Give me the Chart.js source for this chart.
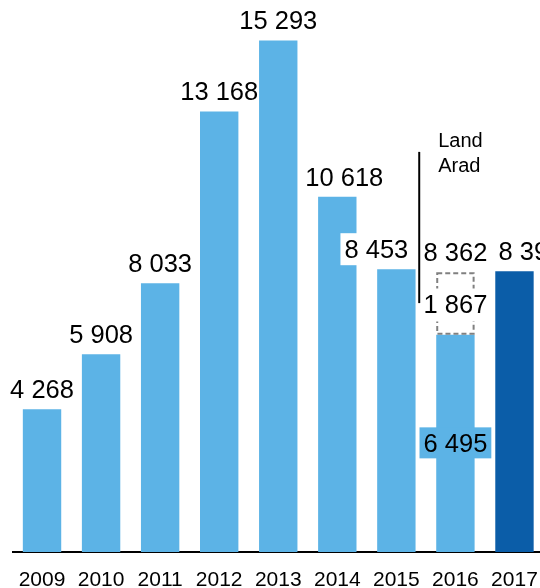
<!DOCTYPE html>
<html>
<head>
<meta charset="utf-8">
<script src="https://cdn.jsdelivr.net/npm/chart.js@4.4.0/dist/chart.umd.min.js"></script>
<style>
html, body { margin: 0; padding: 0; background: #fff; overflow: hidden; }
#frame { width: 540px; height: 588px; overflow: hidden; position: relative; }
#chart { display: block; width: 544px; height: 588px; }
</style>
</head>
<body>
<div id="frame"><canvas id="chart" width="544" height="588"></canvas></div>
<script>
// data
const years = ["2009", "2010", "2011", "2012", "2013", "2014", "2015", "2016", "2017"];
const mainValues = [4268, 5908, 8033, 13168, 15293, 10618, 8453, 6495, 8395];
const landArad = [null, null, null, null, null, null, null, 1867, null];

// small nudges of the value labels, as in the original
const labelShift = [0, 0, 0, 0, 0, 7, -20, 0, 16];

const LIGHT = "#5cb3e6";
const DARK = "#0b5da8";
const FONT = "'Liberation Sans', Arial, sans-serif";

function fmt(v) {
    return String(v).replace(/\B(?=(\d{3})+(?!\d))/g, " ");
}

function boxedText(ctx, text, x, y, bg, padX, up, down) {
    const w = ctx.measureText(text).width;
    if (bg) {
        ctx.fillStyle = bg;
        ctx.fillRect(x - w / 2 - padX, y - up, w + padX * 2, up + down);
    }
    ctx.fillStyle = "#000";
    ctx.fillText(text, x, y);
}

const labelPlugin = {
    id: "valueLabels",
    afterDatasetsDraw(chart) {
        const ctx = chart.ctx;
        const bars = chart.getDatasetMeta(0).data;
        const extra = chart.getDatasetMeta(1).data;
        const yScale = chart.scales.y;
        ctx.save();

        // dashed box for the Land Arad part
        extra.forEach((el, i) => {
            if (landArad[i] == null) return;
            const w = el.width;
            ctx.setLineDash([5, 3]);
            ctx.lineWidth = 2;
            ctx.strokeStyle = "#808080";
            ctx.strokeRect(el.x - w / 2 + 1, el.y + 1, w - 2, el.base - el.y - 2);
            ctx.setLineDash([]);
        });

        ctx.font = "25.5px " + FONT;
        ctx.textAlign = "center";
        ctx.textBaseline = "alphabetic";

        bars.forEach((el, i) => {
            const x = el.x + labelShift[i];
            if (landArad[i] != null) {
                const seg = extra[i];
                const total = mainValues[i] + landArad[i];
                boxedText(ctx, fmt(total), x, seg.y - 11, null, 0, 0, 0);
                boxedText(ctx, fmt(landArad[i]), x, (seg.y + seg.base) / 2 + 10, "#fff", 4, 25, 8);
                boxedText(ctx, fmt(mainValues[i]), x, (el.y + el.base) / 2 + 9, LIGHT, 4, 25, 6);
            } else {
                const bg = i === 6 ? "#fff" : null;
                boxedText(ctx, fmt(mainValues[i]), x, el.y - 11, bg, 4, 25, 7);
            }
        });

        // divider line and "Land Arad" note
        const lx = bars[7].x - bars[7].width / 2 - 17;
        ctx.strokeStyle = "#000";
        ctx.lineWidth = 2;
        ctx.beginPath();
        ctx.moveTo(lx, yScale.getPixelForValue(11960));
        ctx.lineTo(lx, yScale.getPixelForValue(7440));
        ctx.stroke();

        ctx.font = "20px " + FONT;
        ctx.textAlign = "left";
        ctx.fillStyle = "#000";
        const ty = yScale.getPixelForValue(12120);
        ctx.fillText("Land", lx + 19, ty);
        ctx.fillText("Arad", lx + 19, ty + 25);

        ctx.restore();
    }
};

new Chart(document.getElementById("chart"), {
    type: "bar",
    data: {
        labels: years,
        datasets: [
            {
                data: mainValues,
                backgroundColor: mainValues.map((v, i) => i === years.length - 1 ? DARK : LIGHT),
                barPercentage: 0.65,
                categoryPercentage: 1
            },
            {
                data: landArad,
                backgroundColor: "#fff",
                barPercentage: 0.65,
                categoryPercentage: 1
            }
        ]
    },
    options: {
        responsive: false,
        animation: false,
        layout: { padding: { left: 12.5, right: 0, top: 0, bottom: 0 } },
        plugins: {
            legend: { display: false },
            tooltip: { enabled: false }
        },
        scales: {
            x: {
                stacked: true,
                grid: { display: false, drawTicks: false },
                border: { display: true, color: "#000", width: 2 },
                ticks: {
                    color: "#000",
                    padding: 16,
                    maxRotation: 0,
                    autoSkip: false,
                    font: { family: FONT, size: 21 }
                },
                afterFit(scale) {
                    // keep the axis band fixed and let the last bar reach the edge
                    scale.height = 36;
                    scale.paddingLeft = 0;
                    scale.paddingRight = 0;
                }
            },
            y: {
                stacked: true,
                display: false,
                min: 0,
                max: 16500
            }
        }
    },
    plugins: [labelPlugin]
});
</script>
</body>
</html>
